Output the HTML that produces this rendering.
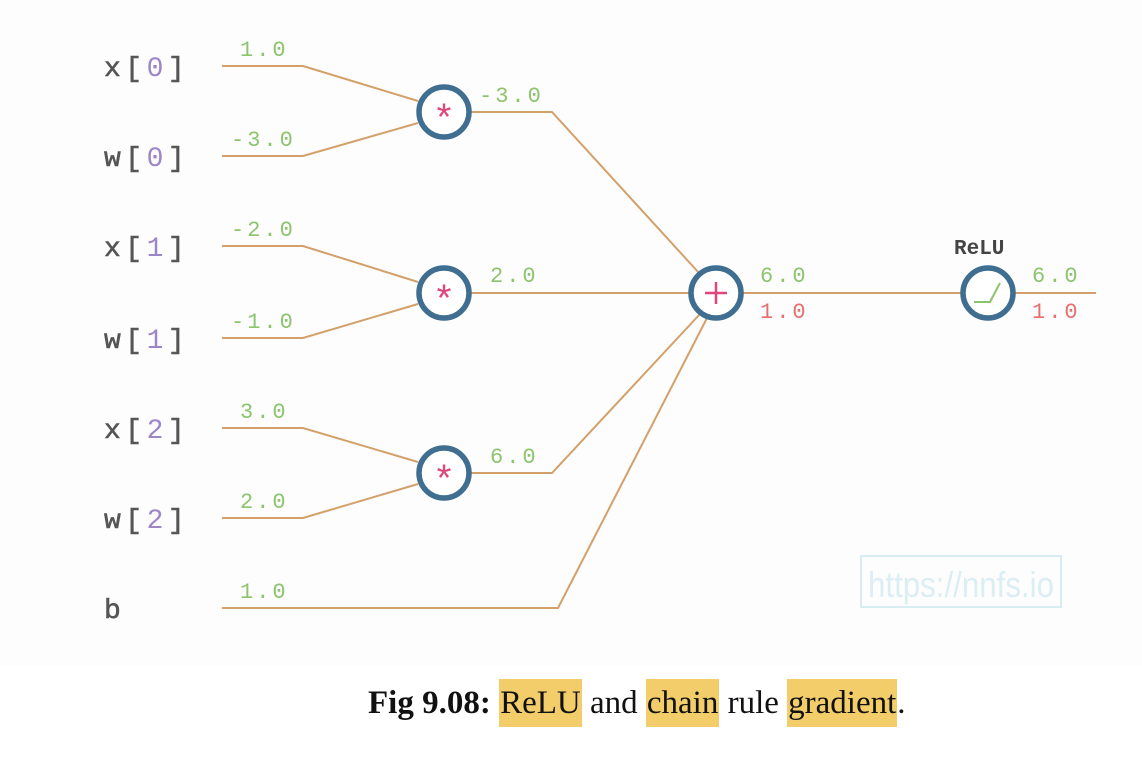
<!DOCTYPE html>
<html><head><style>
body{margin:0;background:#fff;}
.wrap{position:relative;width:1142px;height:766px;overflow:hidden;background:#fff;}
svg text{font-family:"Liberation Mono",monospace;}
.cap{position:absolute;left:368px;top:683px;font-family:"Liberation Serif",serif;font-size:33px;line-height:40px;color:#111;white-space:nowrap;}
.hl{background:#f2cd6a;padding:6px 1px;}
</style></head><body><div class="wrap">
<svg width="1142" height="766" style="position:absolute;left:0;top:0">
<rect x="0" y="0" width="1142" height="665" fill="#fdfdfd"/>
<g stroke="#d4a06a" stroke-width="2" fill="none">
<polyline points="222,66 303,66 418,101"/>
<polyline points="222,156 303,156 418,123"/>
<polyline points="222,246 303,246 418,282"/>
<polyline points="222,338 303,338 418,304"/>
<polyline points="222,428 303,428 418,462"/>
<polyline points="222,518 303,518 418,484"/>
<polyline points="470,112 552,112 699,273"/>
<line x1="470" y1="293" x2="690" y2="293"/>
<polyline points="470,473 552,473 700,314"/>
<polyline points="222,608 558,608 707,318"/>
<line x1="742" y1="293" x2="962" y2="293"/>
<line x1="1014" y1="293" x2="1096" y2="293"/>
</g>
<g fill="#fff" stroke="#3f6e90" stroke-width="5.5">
<circle cx="444" cy="112" r="25"/><circle cx="444" cy="293" r="25"/><circle cx="444" cy="473" r="25"/>
<circle cx="716" cy="293" r="25"/><circle cx="988" cy="293" r="25"/>
</g>
<g fill="#e0457b" font-size="38" text-anchor="middle">
<text x="444" y="131">*</text><text x="444" y="312">*</text><text x="444" y="492">*</text>
</g>
<g stroke="#e0457b" stroke-width="2.5"><line x1="705" y1="293" x2="727" y2="293"/><line x1="716" y1="282" x2="716" y2="304"/></g>
<polyline points="974,302 990,302 1000,283" stroke="#8cc46e" stroke-width="2" fill="none"/>
<g font-size="28" fill="#555" letter-spacing="4.5" stroke="#555" stroke-width="0.6">
<text x="104" y="76">x[<tspan fill="#9d86c8" stroke="none">0</tspan>]</text>
<text x="104" y="166">w[<tspan fill="#9d86c8" stroke="none">0</tspan>]</text>
<text x="104" y="256">x[<tspan fill="#9d86c8" stroke="none">1</tspan>]</text>
<text x="104" y="348">w[<tspan fill="#9d86c8" stroke="none">1</tspan>]</text>
<text x="104" y="438">x[<tspan fill="#9d86c8" stroke="none">2</tspan>]</text>
<text x="104" y="528">w[<tspan fill="#9d86c8" stroke="none">2</tspan>]</text>
<text x="104" y="618">b</text>
</g>
<g font-size="22" fill="#8cc46e" letter-spacing="3">
<text x="240" y="56">1.0</text><text x="231" y="146">-3.0</text>
<text x="231" y="236">-2.0</text><text x="231" y="328">-1.0</text>
<text x="240" y="418">3.0</text><text x="240" y="508">2.0</text>
<text x="240" y="598">1.0</text>
<text x="479" y="102">-3.0</text><text x="490" y="282">2.0</text><text x="490" y="463">6.0</text>
<text x="760" y="282">6.0</text><text x="1032" y="282">6.0</text>
</g>
<g font-size="22" fill="#e47070" letter-spacing="3"><text x="760" y="318">1.0</text><text x="1032" y="318">1.0</text></g>
<text x="954" y="254" font-size="21" fill="#444" font-weight="bold">ReLU</text>
<rect x="861" y="556" width="200" height="51" fill="none" stroke="#d8edf3" stroke-width="2"/>
<text x="868" y="597" font-size="36" fill="#dbeef4" style="font-family:'Liberation Sans Narrow','Liberation Sans',sans-serif;font-weight:300" textLength="186" lengthAdjust="spacingAndGlyphs">https://nnfs.io</text>
</svg>
<div class="cap"><b>Fig 9.08:</b> <span class="hl">ReLU</span> and <span class="hl">chain</span> rule <span class="hl">gradient</span>.</div>
</div></body></html>
